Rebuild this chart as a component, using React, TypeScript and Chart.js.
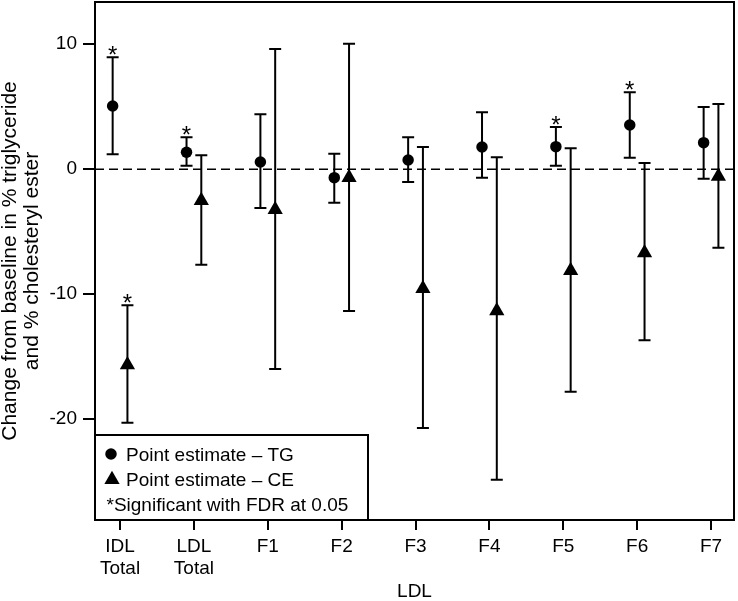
import React, { useEffect, useRef } from "react";
import { Chart, registerables } from "chart.js";

Chart.register(...registerables);

const categories: (string | string[])[] = [["IDL", "Total"], ["LDL", "Total"], "F1", "F2", "F3", "F4", "F5", "F6", "F7"];
const yTickValues = [-20, -10, 0, 10];

const tgEstimate = [5.06, 1.36, 0.58, -0.67, 0.74, 1.78, 1.81, 3.54, 2.13];
const tgLower = [1.2, 0.29, -3.1, -2.67, -1.02, -0.67, 0.29, 0.93, -0.75];
const tgUpper = [8.96, 2.56, 4.4, 1.25, 2.56, 4.56, 3.38, 6.16, 4.98];
const tgSignificant = [true, true, false, false, false, false, true, true, false];

const ceEstimate = [-15.65, -2.5, -3.23, -0.67, -9.55, -11.33, -8.11, -6.69, -0.56];
const ceLower = [-20.27, -7.63, -15.97, -11.33, -20.7, -24.83, -17.8, -13.68, -6.27];
const ceUpper = [-10.88, 1.12, 9.62, 10.05, 1.78, 0.96, 1.68, 0.5, 5.22];
const ceSignificant = [true, false, false, false, false, false, false, false, false];

const yTitle = ["Change from baseline in % triglyceride", "and % cholesteryl ester"];
const xTitle = "LDL";
const legendLabels = ["Point estimate \u2013 TG", "Point estimate \u2013 CE", "*Significant with FDR at 0.05"];

const TG_OFFSET = -0.1;
const CE_OFFSET = 0.1;
const FONT = "'Liberation Sans', Arial, Helvetica, sans-serif";

const series = [
  { est: tgEstimate, lo: tgLower, hi: tgUpper, sig: tgSignificant, off: TG_OFFSET },
  { est: ceEstimate, lo: ceLower, hi: ceUpper, sig: ceSignificant, off: CE_OFFSET },
];

const noPadding = () => ({ left: 0, top: 0, right: 0, bottom: 0 });

const errorPlugin = {
  id: "errorBarsAndFrame",
  beforeDatasetsDraw(chart: any) {
    const { ctx, chartArea, scales } = chart;
    const xs = scales.x;
    const ys = scales.y;
    ctx.save();
    const y0 = ys.getPixelForValue(0);
    ctx.strokeStyle = "#000";
    ctx.lineWidth = 1.3;
    ctx.setLineDash([9, 5]);
    ctx.beginPath();
    ctx.moveTo(chartArea.left, y0);
    ctx.lineTo(chartArea.right, y0);
    ctx.stroke();
    ctx.setLineDash([]);
    ctx.lineWidth = 2;
    const cap = 6;
    series.forEach((s) => {
      s.est.forEach((_, i) => {
        const px = xs.getPixelForValue(i + 1 + s.off);
        const pl = ys.getPixelForValue(s.lo[i]);
        const ph = ys.getPixelForValue(s.hi[i]);
        ctx.beginPath();
        ctx.moveTo(px, pl);
        ctx.lineTo(px, ph);
        ctx.moveTo(px - cap, pl);
        ctx.lineTo(px + cap, pl);
        ctx.moveTo(px - cap, ph);
        ctx.lineTo(px + cap, ph);
        ctx.stroke();
        if (s.sig[i]) {
          ctx.fillStyle = "#000";
          ctx.font = `24px ${FONT}`;
          ctx.textAlign = "center";
          ctx.textBaseline = "alphabetic";
          ctx.fillText("*", px, ph + 5.5);
        }
      });
    });
    ctx.restore();
  },
  afterDraw(chart: any) {
    const { ctx, chartArea } = chart;
    ctx.save();
    ctx.strokeStyle = "#000";
    ctx.lineWidth = 2;
    ctx.strokeRect(chartArea.left, chartArea.top, chartArea.right - chartArea.left, chartArea.bottom - chartArea.top);
    const lx = chartArea.left;
    const ly = 435;
    const lw = 273;
    const lh = chartArea.bottom - ly;
    ctx.fillStyle = "#fff";
    ctx.fillRect(lx, ly, lw, lh);
    ctx.strokeRect(lx, ly, lw, lh);
    ctx.fillStyle = "#000";
    ctx.beginPath();
    ctx.arc(lx + 16, ly + 19, 5.75, 0, Math.PI * 2);
    ctx.fill();
    const tx = lx + 17;
    const ty = ly + 44.5;
    const r = 8.8;
    ctx.beginPath();
    ctx.moveTo(tx, ty - r);
    ctx.lineTo(tx + r * Math.sin((2 * Math.PI) / 3), ty + r / 2);
    ctx.lineTo(tx - r * Math.sin((2 * Math.PI) / 3), ty + r / 2);
    ctx.closePath();
    ctx.fill();
    ctx.font = `19px ${FONT}`;
    ctx.textAlign = "left";
    ctx.textBaseline = "alphabetic";
    ctx.fillText(legendLabels[0], lx + 31, ly + 25.5);
    ctx.fillText(legendLabels[1], lx + 31, ly + 50.5);
    ctx.fillText(legendLabels[2], lx + 11.5, ly + 75.5);
    ctx.restore();
  },
};

export default function App() {
  const ref = useRef<HTMLCanvasElement>(null);
  useEffect(() => {
    if (!ref.current) return;
    const chart = new Chart(ref.current, {
      type: "scatter",
      data: {
        datasets: [
          {
            label: "TG",
            data: tgEstimate.map((v, i) => ({ x: i + 1 + TG_OFFSET, y: v })),
            pointStyle: "circle",
            pointRadius: 5.75,
            pointHoverRadius: 5.75,
            backgroundColor: "#000",
            borderColor: "#000",
            borderWidth: 0,
          },
          {
            label: "CE",
            data: ceEstimate.map((v, i) => ({ x: i + 1 + CE_OFFSET, y: v })),
            pointStyle: "triangle",
            pointRadius: 8.8,
            pointHoverRadius: 8.8,
            backgroundColor: "#000",
            borderColor: "#000",
            borderWidth: 0,
          },
        ],
      },
      options: {
        responsive: false,
        animation: false,
        layout: { autoPadding: false, padding: { left: 0, top: 2, right: 4, bottom: 0 } },
        plugins: { legend: { display: false }, tooltip: { enabled: false } },
        scales: {
          x: {
            type: "linear",
            min: 0.661,
            max: 9.311,
            afterBuildTicks: (s: any) => {
              s.ticks = categories.map((_, i) => ({ value: i + 1 }));
            },
            afterFit: (s: any) => {
              s.height = 81;
              s.paddingLeft = 0;
              s.paddingRight = 0;
              s.getPadding = noPadding;
            },
            ticks: {
              callback: (_v: any, i: number) => categories[i],
              autoSkip: false,
              maxRotation: 0,
              minRotation: 0,
              padding: 6,
              color: "#000",
              font: { family: FONT, size: 19, lineHeight: 1.14 },
            },
            grid: {
              display: true,
              drawOnChartArea: false,
              drawTicks: true,
              tickLength: 10,
              tickWidth: 2,
              tickColor: "#000",
              color: "#000",
              lineWidth: 2,
            },
            border: { display: false },
            title: {
              display: true,
              text: xTitle,
              color: "#000",
              font: { family: FONT, size: 19, lineHeight: 1 },
              padding: { top: 0, bottom: 0 },
            },
          },
          y: {
            type: "linear",
            min: -28.06,
            max: 13.38,
            afterBuildTicks: (s: any) => {
              s.ticks = yTickValues.map((v) => ({ value: v }));
            },
            afterFit: (s: any) => {
              s.width = 95;
              s.paddingTop = 0;
              s.paddingBottom = 0;
              s.getPadding = noPadding;
            },
            ticks: {
              callback: (v: any) => String(v),
              padding: 6,
              color: "#000",
              font: { family: FONT, size: 19 },
            },
            grid: {
              display: true,
              drawOnChartArea: false,
              drawTicks: true,
              tickLength: 12,
              tickWidth: 2,
              tickColor: "#000",
              color: "#000",
              lineWidth: 2,
            },
            border: { display: false },
            title: {
              display: true,
              text: yTitle,
              color: "#000",
              font: { family: FONT, size: 21, lineHeight: 1.06 },
              padding: { top: -1, bottom: 0 },
            },
          },
        },
      },
      plugins: [errorPlugin],
    });
    return () => chart.destroy();
  }, []);
  return (
    <div style={{ position: "absolute", left: 0, top: 0, width: 738, height: 601, background: "#fff" }}>
      <canvas ref={ref} width={738} height={601} style={{ display: "block" }} />
    </div>
  );
}
